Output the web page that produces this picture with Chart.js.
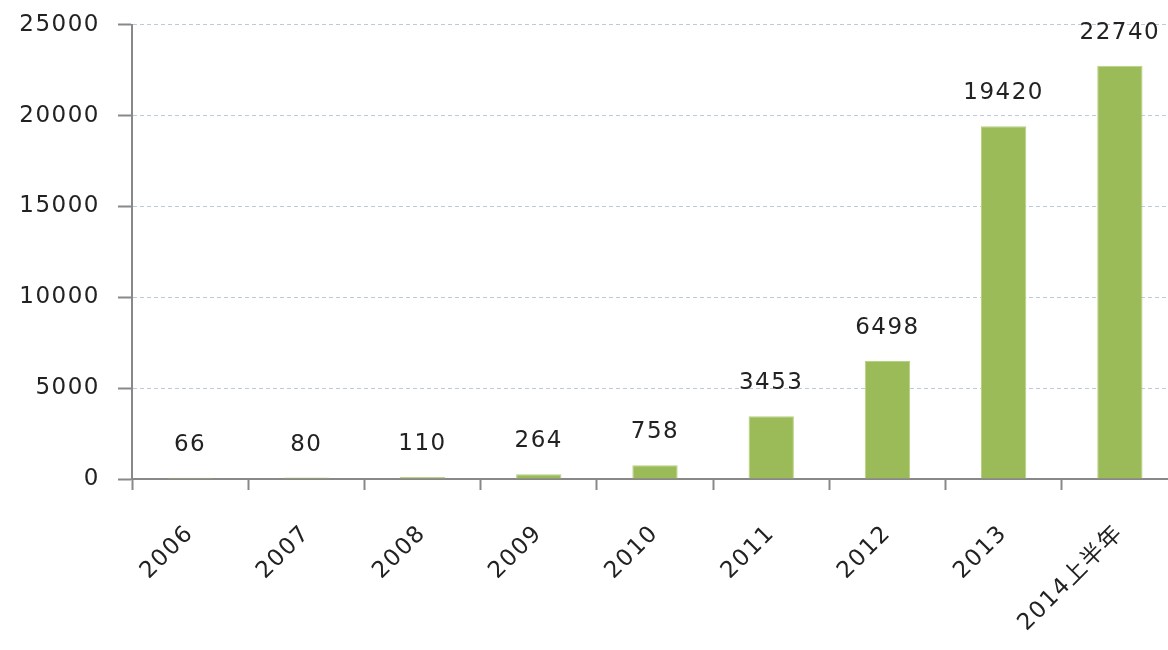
<!DOCTYPE html>
<html>
<head>
<meta charset="utf-8">
<script src="https://cdn.jsdelivr.net/npm/chart.js@4"></script>
<style>
  html, body { margin: 0; padding: 0; background: #fff; overflow: hidden; }
  #wrap { width: 1178px; height: 657px; margin-top: -7px; }
</style>
</head>
<body>
<div id="wrap"><canvas id="chart"></canvas></div>
<script>
// values
const years = ["2006", "2007", "2008", "2009", "2010", "2011", "2012", "2013", "2014上半年"];
const counts = [66, 80, 110, 264, 758, 3453, 6498, 19420, 22740];
const yTicks = [0, 5000, 10000, 15000, 20000, 25000];

const FONT = "'DejaVu Sans', Verdana, 'Noto Sans CJK SC', sans-serif";

// slightly wider letter spacing, like the original's font
const spacing = {
    id: "spacing",
    beforeDraw(chart) {
        chart.ctx.letterSpacing = "1.5px";
    }
};

// number above each bar
const valueLabels = {
    id: "valueLabels",
    afterDatasetsDraw(chart) {
        const ctx = chart.ctx;
        const meta = chart.getDatasetMeta(0);
        ctx.save();
        ctx.font = "23px " + FONT;
        ctx.fillStyle = "#222";
        ctx.textAlign = "center";
        ctx.textBaseline = "middle";
        meta.data.forEach(function (bar, i) {
            ctx.fillText(String(counts[i]), bar.x, bar.y - 33);
        });
        ctx.restore();
    }
};

new Chart(document.getElementById("chart"), {
    type: "bar",
    data: {
        labels: years,
        datasets: [{
            data: counts,
            backgroundColor: "#9bbb59",
            borderColor: "#b9d07f",
            borderWidth: 1,
            barPercentage: 0.39,
            categoryPercentage: 1.0
        }]
    },
    options: {
        responsive: true,
        maintainAspectRatio: false,
        animation: false,
        layout: { padding: { top: 17, right: 0, bottom: 0, left: 0 } },
        plugins: {
            legend: { display: false },
            tooltip: { enabled: false }
        },
        scales: {
            x: {
                afterFit(axis) { axis.height = 171; },
                grid: {
                    drawOnChartArea: false,
                    drawTicks: true,
                    tickLength: 11,
                    tickColor: "#888",
                    tickWidth: 2,
                    offset: true
                },
                border: { color: "#888", width: 2 },
                ticks: {
                    color: "#222",
                    font: { family: FONT, size: 23 },
                    minRotation: 45,
                    maxRotation: 45,
                    padding: 30
                }
            },
            y: {
                min: 0,
                max: 25000,
                afterFit(axis) { axis.width = 132; },
                afterBuildTicks(axis) {
                    axis.ticks = yTicks.map(function (v) { return { value: v }; });
                },
                grid: {
                    color: "#bccbdb",
                    tickBorderDash: [],
                    tickLength: 14,
                    tickColor: "#888",
                    tickWidth: 2
                },
                border: { color: "#888", width: 2, dash: [4, 3] },
                ticks: {
                    color: "#222",
                    font: { family: FONT, size: 23 },
                    padding: 18,
                    callback: function (v) { return String(v); }
                }
            }
        }
    },
    plugins: [spacing, valueLabels]
});
</script>
</body>
</html>
